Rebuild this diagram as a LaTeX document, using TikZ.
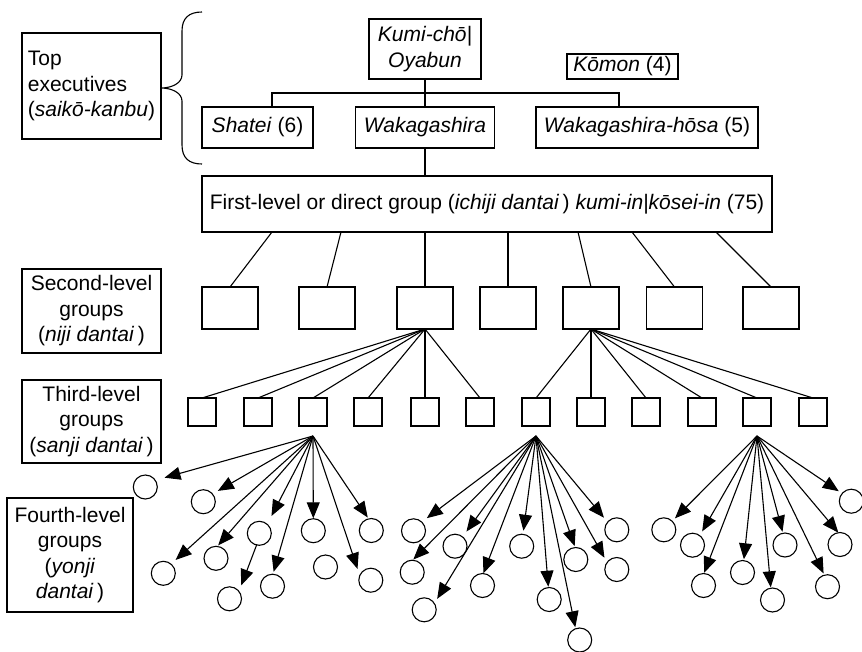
\documentclass[tikz,border=0pt]{standalone}
\usepackage{fontspec}
\setmainfont{Liberation Sans}
\usetikzlibrary{arrows.meta,calc}

\begin{document}
\begin{tikzpicture}[x=1pt,y=-1pt,
  every node/.style={font=\fontsize{21}{25.5}\selectfont},
  box/.style={draw, line width=1.1pt, inner sep=0pt, outer sep=0pt, align=center},
  grouptwo/.style={box, minimum width=56pt, minimum height=42pt},
  groupthree/.style={box, minimum width=28pt, minimum height=28pt},
  leaf/.style={draw, circle, line width=1.1pt, minimum size=24pt, inner sep=0pt, outer sep=0pt},
  link/.style={line width=1.1pt},
  arr/.style={line width=1.1pt, -{Triangle[length=16pt 0 0, width=13pt 0 0]}},
]
\useasboundingbox (0,0) rectangle (862,651);

% ---- level labels on the left ----
\node[box, minimum width=139pt, minimum height=106pt, align=left] (topexec) at (91.5,86)
  {Top\\executives\\(\textit{saikō-kanbu})};
\node[box, minimum width=139pt, minimum height=84pt] (labtwo) at (91.5,311)
  {Second-level\\groups\\(\textit{niji dantai}\,)};
\node[box, minimum width=139pt, minimum height=83pt] (labthree) at (91.5,421.5)
  {Third-level\\groups\\(\textit{sanji dantai}\,)};
\node[box, minimum width=126pt, minimum height=114pt] (labfour) at (70,555)
  {Fourth-level\\groups\\(\textit{yonji}\\\textit{dantai}\,)};

% curly brace grouping the top executives
\draw[link] (202,12) .. controls (189,12) and (182,18) .. (182,31)
  -- (182,75) .. controls (182,83) and (172,88) .. (161,88)
  .. controls (172,88) and (182,93) .. (182,101)
  -- (182,145) .. controls (182,158) and (189,164) .. (202,164);

% ---- leadership ----
\node[box, minimum width=112pt, minimum height=60pt] (kumi) at (425,49)
  {\textit{Kumi-chō|}\\\textit{Oyabun}};
\node[box, minimum width=111pt, minimum height=25pt] (komon) at (622.5,66.5)
  {\textit{Kōmon} (4)};
\node[box, minimum width=111pt, minimum height=41pt] (shatei) at (257.5,127.5)
  {\textit{Shatei} (6)};
\node[box, minimum width=139pt, minimum height=41pt] (waka) at (425,127.5)
  {\textit{Wakagashira}};
\node[box, minimum width=222pt, minimum height=41pt] (hosa) at (647,127.5)
  {\textit{Wakagashira-hōsa} (5)};
\node[box, minimum width=570pt, minimum height=56pt] (first) at (487,204)
  {First-level or direct group (\textit{ichiji dantai}\,) \textit{kumi-in|kōsei-in} (75)};

\coordinate (jl) at (272,93);
\coordinate (jr) at (619,93);
\draw[link] (jl |- shatei.north) -- (jl) -- (jr) -- (jr |- hosa.north);
\draw[link] (kumi.south) -- (kumi.south |- waka.north);
\draw[link] (waka.south) -- (waka.south |- first.north);

% ---- second-level groups ----
\foreach \x [count=\i] in {230,327,425,508,591,674.5,771}
  \node[grouptwo] (sec\i) at (\x,308) {};
\foreach \x [count=\i] in {272,341,425,508,578,632,716} {
  \coordinate (fx) at (\x,0);
  \draw[link] (first.south -| fx) -- (sec\i.north);
}

% ---- third-level groups ----
\foreach \x [count=\i] in {202,258,313,368,425,480,536,591,646,702,757,813}
  \node[groupthree] (thr\i) at (\x,412) {};
\foreach \i in {1,...,6}
  \draw[link] (sec3.south) -- (thr\i.north);
\foreach \i in {7,...,12}
  \draw[link] (sec5.south) -- (thr\i.north);

% ---- fourth-level groups ----
\coordinate (srcA) at ($(thr3.south)+(0,10)$);
\coordinate (srcB) at ($(thr7.south)+(0,10)$);
\coordinate (srcC) at ($(thr11.south)+(0,10)$);

\foreach \n/\x/\y in {
  a1/145.3/487, a2/203.3/501.7, a3/163.3/573.3, a4/216/558.3, a5/259.3/533.3,
  a6/229.5/598.8, a7/272.5/586.2, a8/313.3/530.7, a9/325.5/567, a10/370.8/580.2,
  a11/371.3/530.5,
  b1/413.5/530.8, b2/412.2/572.2, b3/424.2/609.8, b4/455/546.2, b5/482.5/585.5,
  b6/521.7/546.2, b7/549.2/599.5, b8/579.7/640, b9/575.8/559.5, b10/616.8/529.8,
  b11/616.8/569.5,
  c1/663.8/529.8, c2/692.5/545.2, c3/703.5/585.5, c4/742.5/572.5, c5/772.5/600,
  c6/785/545, c7/827.5/586.7, c8/840/544.5, c9/851.3/501.2}
  \node[leaf] (\n) at (\x,\y) {};

\foreach \n/\a/\s in {a1/34/9.6pt, a2/40/6.2pt, a3/50/6.2pt, a4/84/1.4pt, a5/49/9.3pt,
  a7/88/2.5pt, a8/90/0.4pt, a10/157/7pt, a11/103/1.5pt}
  \draw[arr, shorten >=\s] (srcA) -- (\n.\a);
\draw[arr, shorten >=6.5pt] (a5.257) -- (a6.38);

\foreach \n/\a/\s in {b1/47/6.4pt, b2/88/0.9pt, b3/32/5.4pt, b4/51/6.6pt, b5/86/0.2pt,
  b6/84/3.6pt, b7/94/0.8pt, b8/110/1.5pt, b9/93/1.5pt, b10/140/5.7pt, b11/144/5.4pt}
  \draw[arr, shorten >=\s] (srcB) -- (\n.\a);

\foreach \n/\a/\s in {c1/46/4pt, c2/53/4.9pt, c3/88/0.8pt, c4/84/1.3pt, c5/98/0.8pt,
  c6/100/1.5pt, c7/105/1.8pt, c8/98/0pt, c9/140/4pt}
  \draw[arr, shorten >=\s] (srcC) -- (\n.\a);

\end{tikzpicture}
\end{document}
